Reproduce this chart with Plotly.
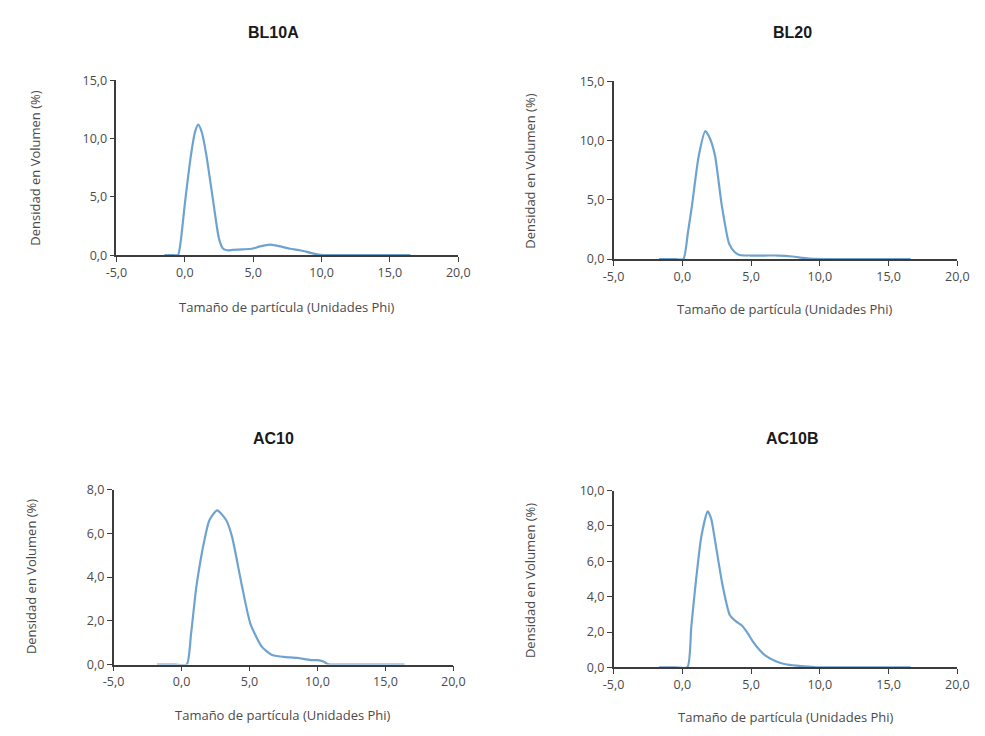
import plotly.graph_objects as go

W, H = 985, 736

titles = ["BL10A", "BL20", "AC10", "AC10B"]

bl10a_x = [-1.5, -0.8, -0.5, -0.3, 0.0, 0.45, 0.75, 0.98, 1.25, 1.57, 2.1, 2.5, 2.8, 3.1, 3.5, 4.2, 4.9, 5.5, 6.25, 7.0, 7.7, 8.5, 9.2, 9.9, 11.0, 16.5]
bl10a_y = [0, 0, 0, 1.2, 4.4, 8.6, 10.6, 11.2, 10.5, 8.6, 4.4, 1.4, 0.55, 0.42, 0.45, 0.5, 0.55, 0.75, 0.9, 0.75, 0.55, 0.4, 0.2, 0.03, 0, 0]

bl20_x = [-1.7, -0.5, 0.07, 0.4, 0.71, 1.19, 1.67, 2.0, 2.38, 2.86, 3.4, 3.8, 4.17, 5.0, 6.0, 7.0, 8.0, 8.8, 9.6, 11.0, 16.6]
bl20_y = [0, 0, 0, 2.2, 4.6, 8.7, 10.8, 10.2, 8.7, 4.6, 1.3, 0.6, 0.35, 0.3, 0.3, 0.3, 0.22, 0.1, 0.01, 0, 0]

ac10_x = [-1.8, -0.5, 0.38, 0.7, 1.1, 1.74, 2.05, 2.62, 3.29, 3.71, 4.43, 5.07, 5.9, 6.62, 7.5, 8.5, 9.5, 10.0, 10.4, 10.8, 12.0, 16.4]
ac10_y = [0, 0, 0, 1.4, 3.6, 5.86, 6.6, 7.05, 6.6, 5.86, 3.64, 1.86, 0.82, 0.45, 0.35, 0.3, 0.2, 0.2, 0.15, 0.01, 0, 0]

ac10b_x = [-1.7, -0.5, 0.36, 0.65, 0.95, 1.38, 1.84, 2.1, 2.33, 2.93, 3.45, 3.9, 4.29, 4.7, 5.12, 5.6, 6.07, 6.8, 7.5, 8.3, 9.17, 9.7, 11.0, 16.6]
ac10b_y = [0, 0, 0, 2.3, 4.62, 7.4, 8.83, 8.4, 7.4, 4.62, 2.96, 2.6, 2.4, 2.0, 1.48, 1.0, 0.65, 0.35, 0.18, 0.1, 0.05, 0.01, 0, 0]

series_x = [bl10a_x, bl20_x, ac10_x, ac10b_x]
series_y = [bl10a_y, bl20_y, ac10_y, ac10b_y]

y_max = [15, 15, 8, 10]
y_dtick = [5, 5, 2, 2]
x_ticks = [-5, 0, 5, 10, 15, 20]

x_title = "Tamaño de partícula (Unidades Phi)"
y_title = "Densidad en Volumen (%)"

# panel boxes in pixels: (left, right, top, bottom)
boxes = [(108, 458, 73, 252), (617, 969, 74, 256), (105, 453, 492, 671), (617, 969, 493, 674)]
title_pos = [(269, 24), (800, 24), (269, 440), (800, 440)]
xt_pos = [(283, 305), (793, 307), (278, 723), (794, 725)]
yt_pos = [(25, 163), (532, 166), (20, 581), (532, 585)]


def px(x):
    return x / W


def py(y):
    return 1 - y / H


def fmt(v):
    return ("%.1f" % v).replace(".", ",")


fig = go.Figure()
line_color = "#6fa3cf"
axis_color = "#3c3c3c"
text_color = "#4a4a4a"
font_fam = "Open Sans, DejaVu Sans, sans-serif"

layout = dict(
    width=W, height=H, margin=dict(l=0, r=0, t=0, b=0),
    paper_bgcolor="white", plot_bgcolor="white",
    showlegend=False,
    font=dict(family=font_fam, size=12, color=text_color),
)
annotations = []
for i in range(4):
    ax = "" if i == 0 else str(i + 1)
    fig.add_trace(go.Scatter(
        x=series_x[i], y=series_y[i], mode="lines",
        line=dict(color=line_color, width=2.2, shape="spline", smoothing=0.6),
        xaxis="x" + ax, yaxis="y" + ax, hoverinfo="x+y",
    ))
    l, r, t, b = boxes[i]
    yt = [k * y_dtick[i] for k in range(int(y_max[i] / y_dtick[i]) + 1)]
    layout["xaxis" + ax] = dict(
        domain=[px(l), px(r)], anchor="y" + ax, range=[x_ticks[0], x_ticks[-1]],
        tickvals=x_ticks, ticktext=[fmt(v) for v in x_ticks],
        showline=True, linecolor=axis_color, linewidth=1.5,
        ticks="outside", ticklen=5, tickcolor=axis_color, tickwidth=1.2,
        showgrid=False, zeroline=False, tickfont=dict(size=12.5, color=text_color),
    )
    layout["yaxis" + ax] = dict(
        domain=[py(b), py(t)], anchor="x" + ax, range=[0, y_max[i]],
        tickvals=yt, ticktext=[fmt(v) for v in yt],
        showline=True, linecolor=axis_color, linewidth=1.5,
        ticks="outside", ticklen=5, tickcolor=axis_color, tickwidth=1.2,
        showgrid=False, zeroline=False, tickfont=dict(size=12.5, color=text_color),
    )
    tx, ty = title_pos[i]
    annotations.append(dict(
        text="<b>" + titles[i] + "</b>", x=px(tx), y=py(ty), xref="paper", yref="paper",
        showarrow=False, xanchor="center", yanchor="middle",
        font=dict(family="Liberation Sans, Arial, sans-serif", size=16, color="#1a1a1a"),
    ))
    xx, xy = xt_pos[i]
    annotations.append(dict(
        text=x_title, x=px(xx), y=py(xy), xref="paper", yref="paper",
        showarrow=False, xanchor="center", yanchor="middle",
        font=dict(family=font_fam, size=13, color=text_color),
    ))
    yx, yy = yt_pos[i]
    annotations.append(dict(
        text=y_title, x=px(yx), y=py(yy), xref="paper", yref="paper",
        showarrow=False, xanchor="center", yanchor="middle", textangle=-90,
        font=dict(family=font_fam, size=13, color=text_color),
    ))

layout["annotations"] = annotations
fig.update_layout(**layout)
fig.write_html("out.html")
